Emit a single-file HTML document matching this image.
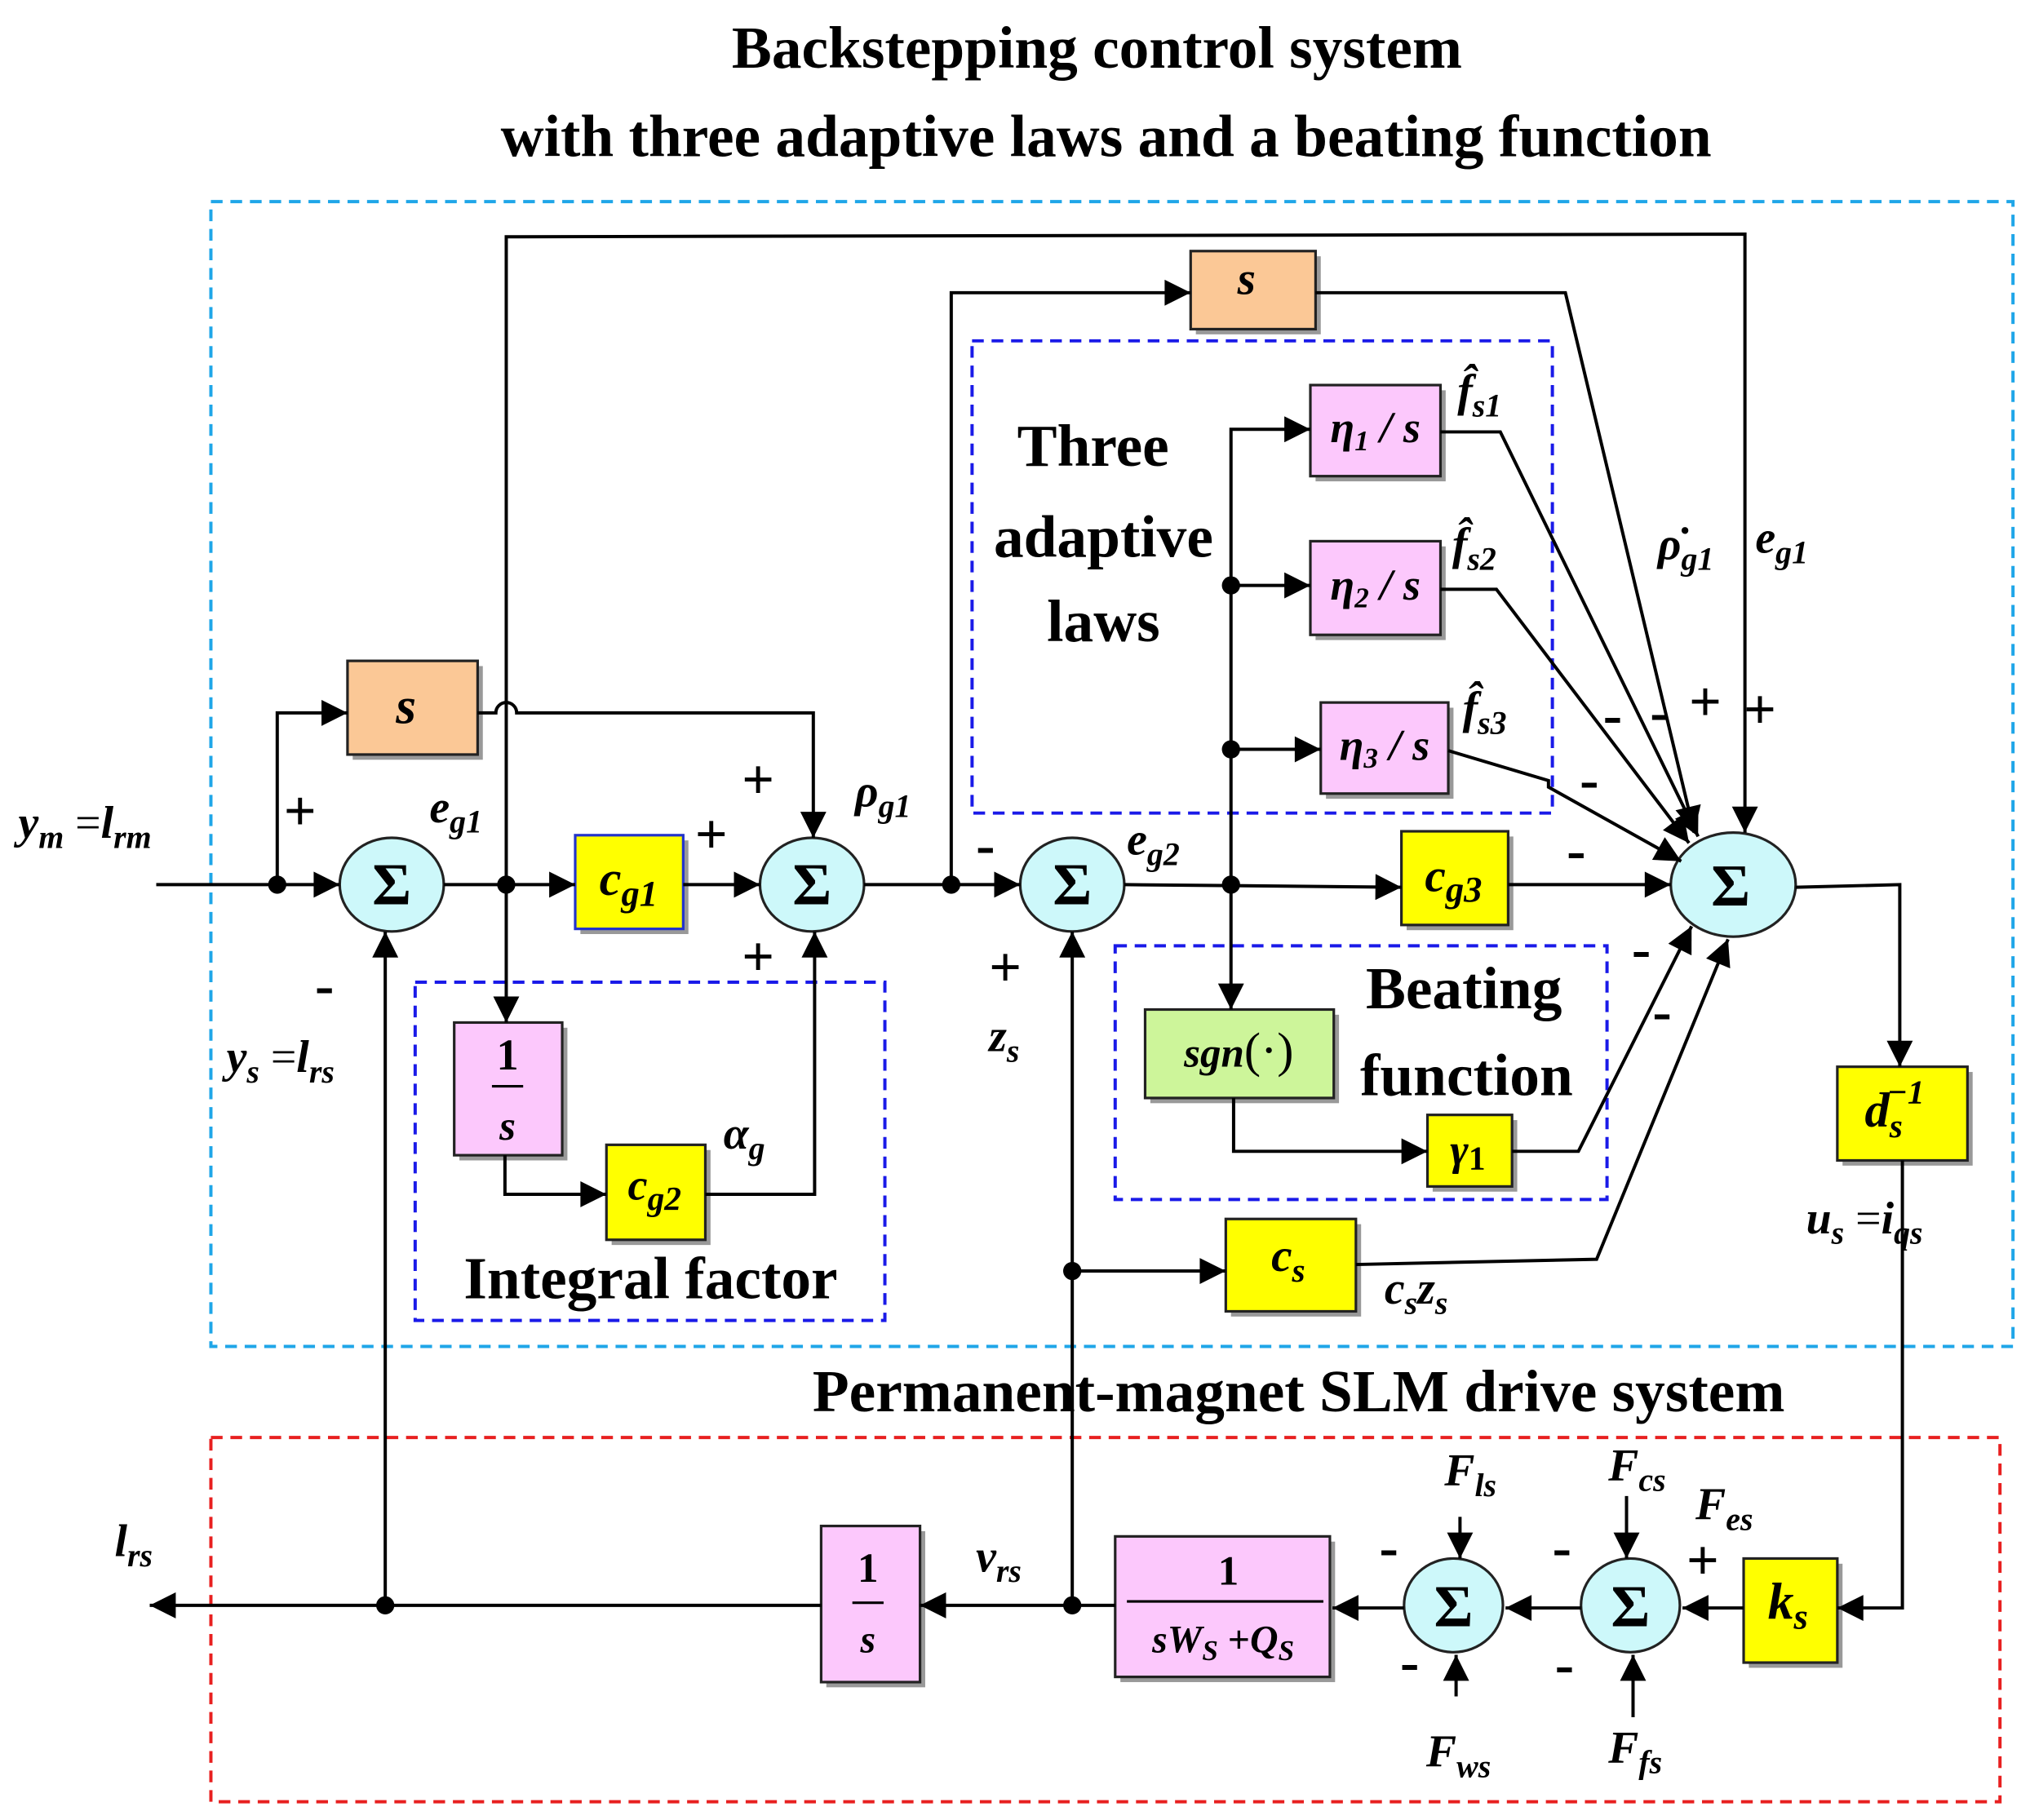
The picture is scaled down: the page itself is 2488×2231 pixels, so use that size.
<!DOCTYPE html>
<html><head><meta charset="utf-8"><style>
html,body{margin:0;padding:0;background:#fff}
svg{display:block}
text{font-family:"Liberation Serif",serif;fill:#000}
.t{font-size:46px;font-weight:bold}
.i{font-style:italic;font-weight:bold;font-size:35px}
.p{font-size:46px;font-weight:bold}
.bl{font-size:46px;font-weight:bold}
</style></head><body>
<svg width="2488" height="2231" viewBox="0 0 1560 1399" xmlns="http://www.w3.org/2000/svg">
<defs>
<marker id="A" viewBox="0 0 10 10" refX="10" refY="5" markerWidth="24" markerHeight="20" orient="auto" markerUnits="userSpaceOnUse"><path d="M0,0 L10,5 L0,10 z" fill="#000"/></marker>
</defs>
<text class="t" x="843" y="52" text-anchor="middle">Backstepping control system</text>
<text class="t" x="850" y="120" text-anchor="middle">with three adaptive laws and a beating function</text>

<g fill="none" stroke-width="2.5" stroke-dasharray="9,6">
<rect x="162" y="155" width="1385" height="880" stroke="#1fa6e8"/>
<rect x="162" y="1105" width="1375" height="280" stroke="#e82020"/>
<rect x="747" y="262" width="446" height="363" stroke="#1a1ae8"/>
<rect x="319" y="755" width="361" height="260" stroke="#1a1ae8"/>
<rect x="857" y="727" width="378" height="195" stroke="#1a1ae8"/>
</g>

<g stroke="#222" stroke-width="2">
<g fill="#999" stroke="none">
<rect x="919" y="197" width="96" height="60"/><rect x="271" y="512" width="100" height="72"/>
<rect x="446" y="646" width="83" height="72"/><rect x="353" y="790" width="83" height="102"/>
<rect x="470" y="884" width="76" height="73"/><rect x="1011" y="300" width="100" height="70"/>
<rect x="1011" y="420" width="100" height="72"/><rect x="1019" y="544" width="98" height="70"/>
<rect x="1081" y="643" width="82" height="72"/><rect x="884" y="780" width="145" height="68"/>
<rect x="1101" y="861" width="65" height="55"/><rect x="946" y="941" width="100" height="71"/>
<rect x="1416" y="824" width="100" height="72"/><rect x="1344" y="1202" width="72" height="80"/>
<rect x="861" y="1185" width="165" height="108"/><rect x="635" y="1177" width="76" height="120"/>
</g>
<rect x="915" y="193" width="96" height="60" fill="#fbc896"/>
<rect x="267" y="508" width="100" height="72" fill="#fbc896"/>
<rect x="442" y="642" width="83" height="72" fill="#ffff00" stroke="#2233cc"/>
<rect x="349" y="786" width="83" height="102" fill="#fcc8fc"/>
<rect x="466" y="880" width="76" height="73" fill="#ffff00"/>
<rect x="1007" y="296" width="100" height="70" fill="#fcc8fc"/>
<rect x="1007" y="416" width="100" height="72" fill="#fcc8fc"/>
<rect x="1015" y="540" width="98" height="70" fill="#fcc8fc"/>
<rect x="1077" y="639" width="82" height="72" fill="#ffff00"/>
<rect x="880" y="776" width="145" height="68" fill="#cdf59a"/>
<rect x="1097" y="857" width="65" height="55" fill="#ffff00"/>
<rect x="942" y="937" width="100" height="71" fill="#ffff00"/>
<rect x="1412" y="820" width="100" height="72" fill="#ffff00"/>
<rect x="1340" y="1198" width="72" height="80" fill="#ffff00"/>
<rect x="857" y="1181" width="165" height="108" fill="#fcc8fc"/>
<rect x="631" y="1173" width="76" height="120" fill="#fcc8fc"/>
</g>
<g fill="#cdf8fa" stroke="#222" stroke-width="2">
<ellipse cx="301" cy="680" rx="40" ry="36"/><ellipse cx="624" cy="680" rx="40" ry="36"/>
<ellipse cx="824" cy="680" rx="40" ry="36"/><ellipse cx="1332" cy="680" rx="48" ry="40"/>
<ellipse cx="1117" cy="1234" rx="38" ry="36"/><ellipse cx="1253" cy="1234" rx="38" ry="36"/>
</g>

<g fill="none" stroke="#000" stroke-width="2.5" marker-end="url(#A)">
<path d="M120,680 H261"/>
<path d="M213,680 V548 H267"/>
<path d="M367,548 H381 A8,8 0 0 1 397,548 H625 V644"/>
<path d="M341,680 H442"/>
<path d="M389,680 V182 L1341,180 V640"/>
<path d="M389,680 V786"/>
<path d="M525,680 H584"/>
<path d="M388,888 V918 H466"/>
<path d="M542,918 H626 V716"/>
<path d="M664,680 H784"/>
<path d="M731,680 V225 H915"/>
<path d="M1011,225 H1203 L1302,640"/>
<path d="M864,680 L1077,682"/>
<path d="M1159,680 H1284"/>
<path d="M946,680 V330 H1007"/>
<path d="M946,450 H1007"/>
<path d="M946,576 H1015"/>
<path d="M946,680 V776"/>
<path d="M1107,332 H1153 L1305,643"/>
<path d="M1107,453 H1150 L1298,648"/>
<path d="M1113,577 L1190,600 V605 L1292,662"/>
<path d="M948,844 V885 H1097"/>
<path d="M1162,885 H1213 L1300,712"/>
<path d="M824,977 H942"/>
<path d="M1042,972 L1227,968 L1328,722"/>
<path d="M1380,682 L1460,680 V820"/>
<path d="M1462,892 V1236 H1412"/>
<path d="M1340,1236 H1293"/>
<path d="M1215,1236 H1157"/>
<path d="M1079,1236 H1024"/>
<path d="M857,1234 H707"/>
<path d="M824,1234 V716"/>
<path d="M631,1234 H115"/>
<path d="M296,1234 V716"/>
<path d="M1122,1166 V1198"/>
<path d="M1119,1304 V1272"/>
<path d="M1250,1150 V1198"/>
<path d="M1255,1320 V1272"/>
</g>
<g fill="#000">
<circle cx="213" cy="680" r="7"/><circle cx="389" cy="680" r="7"/><circle cx="731" cy="680" r="7"/>
<circle cx="946" cy="680" r="7"/><circle cx="946" cy="450" r="7"/><circle cx="946" cy="576" r="7"/>
<circle cx="824" cy="977" r="7"/><circle cx="824" cy="1234" r="7"/><circle cx="296" cy="1234" r="7"/>
</g>

<g class="p" text-anchor="middle">
<text x="301" y="695">Σ</text><text x="624" y="695">Σ</text><text x="824" y="695">Σ</text>
<text x="1330" y="696">Σ</text><text x="1117" y="1250">Σ</text><text x="1253" y="1250">Σ</text>
</g>
<g class="i" text-anchor="middle">
<text x="958" y="226" font-size="36">s</text>
<text x="312" y="556" font-size="40">s</text>
<text x="483" y="688" font-size="38">c<tspan font-size="28" dy="8">g1</tspan></text>
<text x="390" y="822" font-style="normal" font-size="34">1</text>
<line x1="378" y1="835" x2="402" y2="835" stroke="#000" stroke-width="2"/>
<text x="390" y="876" font-size="32">s</text>
<text x="503" y="922" font-size="34">c<tspan font-size="26" dy="8">g2</tspan></text>
<text x="1057" y="340" font-size="34">η<tspan font-size="22" dy="6">1</tspan><tspan dy="-6"> / s</tspan></text>
<text x="1057" y="461" font-size="34">η<tspan font-size="22" dy="6">2</tspan><tspan dy="-6"> / s</tspan></text>
<text x="1064" y="584" font-size="34">η<tspan font-size="22" dy="6">3</tspan><tspan dy="-6"> / s</tspan></text>
<text x="1117" y="685" font-size="36">c<tspan font-size="28" dy="8">g3</tspan></text>
<text x="952" y="820" font-size="32">sgn<tspan font-style="normal" font-weight="normal" font-size="38">(·)</tspan></text>
<text x="1128" y="895" font-size="34">γ<tspan font-size="26" dy="4" font-style="normal">1</tspan></text>
<text x="990" y="977" font-size="36">c<tspan font-size="26" dy="8">s</tspan></text>
<text x="1456" y="866" font-size="38">d<tspan font-size="26" dy="8">s</tspan><tspan font-size="26" dy="-26" dx="-12">−1</tspan></text>
<text x="1374" y="1244" font-size="40">k<tspan font-size="28" dy="8">s</tspan></text>
<text x="944" y="1218" font-style="normal" font-size="32">1</text>
<line x1="866" y1="1231" x2="1017" y2="1231" stroke="#000" stroke-width="2"/>
<text x="940" y="1270" font-size="30">sW<tspan font-size="22" dy="6">S</tspan><tspan dy="-6" font-style="normal"> +</tspan>Q<tspan font-size="22" dy="6">S</tspan></text>
<text x="667" y="1216" font-style="normal" font-size="32">1</text>
<line x1="655" y1="1232" x2="679" y2="1232" stroke="#000" stroke-width="2"/>
<text x="667" y="1270" font-size="30">s</text>
</g>

<g class="bl" text-anchor="middle">
<text x="840" y="358">Three</text><text x="848" y="428">adaptive</text><text x="848" y="493">laws</text>
<text x="1125" y="775">Beating</text><text x="1127" y="842">function</text>
<text x="500" y="998">Integral factor</text>
<text x="998" y="1085">Permanent-magnet SLM drive system</text>
</g>

<g class="i">
<text x="14" y="644">y<tspan font-size="25" dy="8">m</tspan><tspan dy="-8" font-style="normal" font-weight="normal"> =</tspan>l<tspan font-size="25" dy="8">rm</tspan></text>
<text x="330" y="632">e<tspan font-size="25" dy="8">g1</tspan></text>
<text x="174" y="824">y<tspan font-size="25" dy="8">s</tspan><tspan dy="-8" font-style="normal" font-weight="normal"> =</tspan>l<tspan font-size="25" dy="8">rs</tspan></text>
<text x="657" y="620">ρ<tspan font-size="25" dy="8">g1</tspan></text>
<text x="556" y="883">α<tspan font-size="25" dy="8">g</tspan></text>
<text x="866" y="657">e<tspan font-size="25" dy="8">g2</tspan></text>
<text x="760" y="808">z<tspan font-size="25" dy="8">s</tspan></text>
<text x="1120" y="312">f̂<tspan font-size="25" dy="8">s1</tspan></text>
<text x="1116" y="430">f̂<tspan font-size="25" dy="8">s2</tspan></text>
<text x="1124" y="556">f̂<tspan font-size="25" dy="8">s3</tspan></text>
<text x="1274" y="430">ρ̇<tspan font-size="25" dy="8">g1</tspan></text>
<text x="1349" y="425">e<tspan font-size="25" dy="8">g1</tspan></text>
<text x="1388" y="948">u<tspan font-size="25" dy="8">s</tspan><tspan dy="-8" font-style="normal" font-weight="normal"> =</tspan>i<tspan font-size="25" dy="8">qs</tspan></text>
<text x="1064" y="1002">c<tspan font-size="25" dy="8">s</tspan><tspan dy="-8">z</tspan><tspan font-size="25" dy="8">s</tspan></text>
<text x="88" y="1196">l<tspan font-size="25" dy="8">rs</tspan></text>
<text x="750" y="1208">v<tspan font-size="25" dy="8">rs</tspan></text>
<text x="1110" y="1142">F<tspan font-size="25" dy="8">ls</tspan></text>
<text x="1236" y="1138">F<tspan font-size="25" dy="8">cs</tspan></text>
<text x="1303" y="1168">F<tspan font-size="25" dy="8">es</tspan></text>
<text x="1096" y="1358">F<tspan font-size="25" dy="8">ws</tspan></text>
<text x="1236" y="1355">F<tspan font-size="25" dy="8">fs</tspan></text>
</g>
<g font-size="44" font-family="Liberation Sans,sans-serif" font-weight="bold">
<text x="218" y="638">+</text><text x="242" y="772">-</text>
<text x="534" y="656">+</text><text x="570" y="614">+</text><text x="570" y="750">+</text>
<text x="750" y="664">-</text><text x="760" y="758">+</text>
<text x="1232" y="564">-</text><text x="1268" y="562">-</text><text x="1298" y="554">+</text><text x="1340" y="560">+</text>
<text x="1214" y="614">-</text><text x="1204" y="668">-</text><text x="1254" y="744">-</text><text x="1270" y="792">-</text>
<text x="1060" y="1204">-</text><text x="1076" y="1292">-</text>
<text x="1193" y="1204">-</text><text x="1195" y="1294">-</text><text x="1296" y="1214">+</text>
</g>
</svg>
</body></html>
